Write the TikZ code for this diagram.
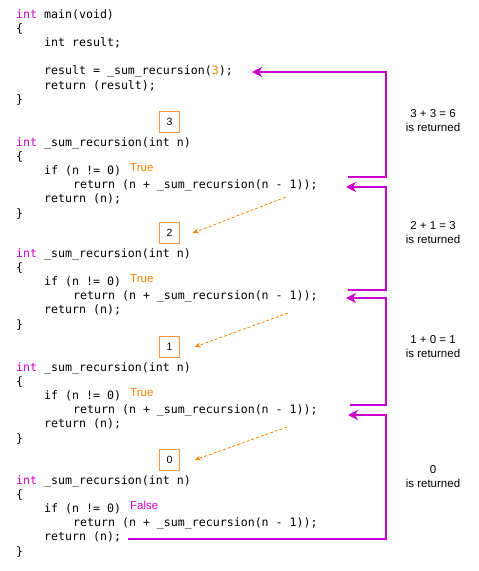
\documentclass[tikz,border=0pt]{standalone}
\usepackage{fontspec}
\setmainfont{Liberation Sans}
\setmonofont{DejaVu Sans Mono}
\usetikzlibrary{arrows.meta}
\definecolor{kwmagenta}{RGB}{204,0,204}
\definecolor{callorange}{RGB}{255,128,0}
\definecolor{boxorange}{RGB}{255,150,60}

\tikzset{
  code/.style={anchor=base west, inner sep=0pt, font=\fontsize{11.6}{14}\selectfont\ttfamily},
  note/.style={align=center, inner sep=0pt, font=\fontsize{11.5}{14}\selectfont},
  argbox/.style={minimum size=20pt, inner sep=0pt, font=\fontsize{10.5}{12}\selectfont},
  boxline/.style={draw=boxorange, line width=1pt},
  backarrow/.style={draw=kwmagenta, line width=1.6pt, -{Stealth[length=10pt, width=10pt, inset=3pt]}},
  callarrow/.style={draw=callorange, line width=0.8pt, dash pattern=on 3pt off 2pt, -{Stealth[length=6pt, width=5pt]}}
}

\begin{document}
\begin{tikzpicture}[x=1pt, y=-1pt]
    \useasboundingbox (0,0) rectangle (479,571);

    % main
    \node[code] (mainHead) at (16,18) {\textcolor{kwmagenta}{int} main(void)};
    \node[code] (mainOpen) at (16,32.2) {\{};
    \node[code] (mainDecl) at (44,46.4) {int result;};
    \node[code] (mainCall) at (44,74.8) {result = \_sum\_recursion(\textcolor{callorange}{3});};
    \node[code] (mainRet) at (44,89) {return (result);};
    \node[code] (mainClose) at (16,103.2) {\}};

    % the four calls
    \foreach \y/\n/\cond/\ccol in {146/3/True/callorange, 257/2/True/callorange, 371/1/True/callorange, 484/0/False/kwmagenta} {
      \node[argbox] (box\n) at (169.5,\y-24) {\n};
      \node[code] (head\n) at (16,\y) {\textcolor{kwmagenta}{int} \_sum\_recursion(int n)};
      \node[code] (open\n) at (16,\y+14.2) {\{};
      \node[code] (if\n) at (44,\y+28.4) {if (n != 0)};
      \node[code] (call\n) at (73,\y+42.6) {return (n + \_sum\_recursion(n - 1));};
      \node[code] (ret\n) at (44,\y+56.8) {return (n);};
      \node[code] (close\n) at (16,\y+71) {\}};
      \node[note, anchor=base west, text=\ccol] (cond\n) at (130,\y+25.4) {\cond};
    }

    % frames of the arguments
    \foreach \n in {3,2,1,0}
      \draw[boxline] (box\n.north west) rectangle (box\n.south east);

    % returned values
    \node[note] (sum3) at (433,121) {3 + 3 = 6\\is returned};
    \node[note] (sum2) at (433,233) {2 + 1 = 3\\is returned};
    \node[note] (sum1) at (433,347) {1 + 0 = 1\\is returned};
    \node[note] (sum0) at (433,477) {0\\is returned};

    \coordinate (rail) at (386,0);
    \coordinate (inMain) at (252,72);
    \coordinate (out3) at (348,177);
    \coordinate (in3) at (346,187);
    \coordinate (out2) at (348,290);
    \coordinate (in2) at (346,298);
    \coordinate (out1) at (350,405);
    \coordinate (in1) at (348,415);
    \coordinate (out0) at ([xshift=7pt, yshift=2pt]ret0.base east);

    \draw[backarrow] (out3) -- (out3 -| rail) |- (inMain);
    \draw[backarrow] (out2) -- (out2 -| rail) |- (in3);
    \draw[backarrow] (out1) -- (out1 -| rail) |- (in2);
    \draw[backarrow] (out0) -- (out0 -| rail) |- (in1);

    % recursive calls
    \coordinate (down3) at (286,197);
    \coordinate (down2) at (288,313);
    \coordinate (down1) at (287,427);
    \draw[callarrow] (down3) -- ([xshift=13pt]box2.east);
    \draw[callarrow] (down2) -- ([xshift=15pt]box1.east);
    \draw[callarrow] (down1) -- ([xshift=15pt]box0.east);

  \end{tikzpicture}
\end{document}
